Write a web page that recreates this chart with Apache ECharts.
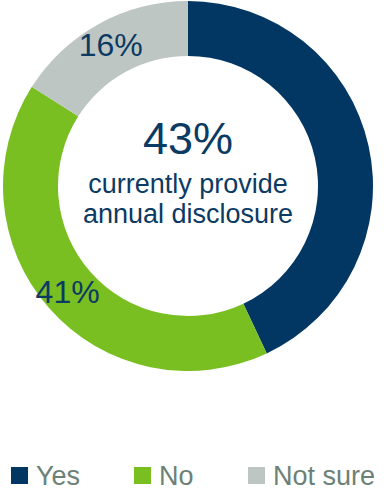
<!DOCTYPE html>
<html>
<head>
<meta charset="utf-8">
<script src="https://cdn.jsdelivr.net/npm/echarts@6/dist/echarts.min.js"></script>
<style>
  html, body { margin: 0; padding: 0; background: #fff; }
  #chart { width: 384px; height: 492px; }
</style>
</head>
<body>
<div id="chart"></div>
<script>
// Survey responses: share of respondents (%)
const categories = ['Yes', 'No', 'Not sure'];
const values = [43, 41, 16];
const colors = ['#023764', '#7abf22', '#bec6c3'];
const centerCaption = ['currently provide', 'annual disclosure'];

const FONT = '"Liberation Sans", Arial, sans-serif';
const TEXT_BLUE = '#0b3a63';
const CX = 188, CY = 186;
// left edge of each legend entry
const legendLeft = [6, 129, 243];

const chart = echarts.init(document.getElementById('chart'), null, { renderer: 'svg' });

const data = categories.map((name, i) => ({
  name,
  value: values[i],
  itemStyle: { color: colors[i] },
  // the leading answer is stated in the hole instead of on its arc
  label: { show: i !== 0 }
}));

const centerText = (text, y, size) => ({
  type: 'text',
  x: CX,
  y,
  style: {
    text,
    font: size + 'px ' + FONT,
    fill: TEXT_BLUE,
    textAlign: 'center',
    textVerticalAlign: 'middle'
  }
});

const legends = categories.map((name, i) => ({
  data: [name],
  orient: 'horizontal',
  left: legendLeft[i],
  top: 457,
  itemWidth: 17,
  itemHeight: 17,
  icon: 'rect',
  selectedMode: false,
  textStyle: { fontFamily: FONT, fontSize: 27, lineHeight: 24, color: '#6b8178', padding: [0, 0, 0, 3] }
}));

chart.setOption({
  animation: false,
  legend: legends,
  graphic: [
    centerText(values[0] + '%', 138, 45),
    centerText(centerCaption[0], 184, 27),
    centerText(centerCaption[1], 214, 27)
  ],
  series: [{
    type: 'pie',
    center: [CX, CY],
    radius: [130, 185],
    startAngle: 90,
    clockwise: true,
    avoidLabelOverlap: false,
    silent: true,
    label: {
      position: 'inside',
      formatter: '{c}%',
      fontFamily: FONT,
      fontSize: 32,
      color: TEXT_BLUE
    },
    labelLine: { show: false },
    data
  }]
});
</script>
</body>
</html>
